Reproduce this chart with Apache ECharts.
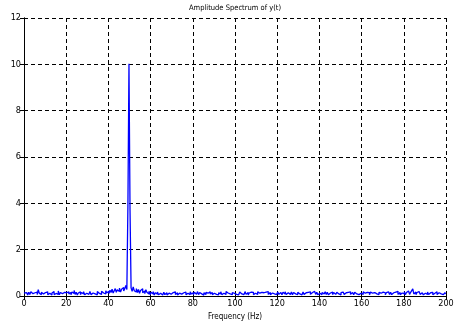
<!DOCTYPE html>
<html>
<head>
<meta charset="utf-8">
<script src="https://cdn.jsdelivr.net/npm/echarts@6/dist/echarts.min.js"></script>
<style>
  html, body { margin: 0; padding: 0; background: #fff; }
  #chart { width: 455px; height: 325px; }
</style>
</head>
<body>
<div id="chart"></div>
<script>
// amplitude |Y(f)|, one value every 0.5 Hz from 0 to 200 Hz
const freqStep = 0.5;
const amplitude = [
    0.12,0.05,0.15,0.08,0.04,0.16,0.07,0.18,0.10,0.05,0.14,0.08,0.17,0.06,0.27,0.12,0.06,0.16,0.09,0.04,
    0.15,0.07,0.18,0.05,0.12,0.16,0.04,0.13,0.19,0.06,0.11,0.17,0.07,0.22,0.05,0.15,0.10,0.04,0.16,0.08,
    0.14,0.06,0.18,0.09,0.15,0.05,0.17,0.11,0.24,0.07,0.16,0.04,0.13,0.18,0.06,0.15,0.09,0.19,0.05,0.12,
    0.17,0.07,0.15,0.20,0.06,0.13,0.18,0.09,0.16,0.05,0.19,0.11,0.17,0.07,0.21,0.13,0.18,0.09,0.23,0.14,
    0.20,0.11,0.25,0.15,0.29,0.13,0.23,0.32,0.16,0.27,0.19,0.34,0.17,0.29,0.37,0.22,0.31,0.46,0.28,3.90,
    10.02,3.70,0.35,0.20,0.39,0.23,0.17,0.32,0.15,0.28,0.12,0.24,0.31,0.14,0.22,0.10,0.27,0.16,0.09,0.21,
    0.06,0.16,0.09,0.19,0.04,0.14,0.08,0.17,0.05,0.12,0.15,0.04,0.11,0.16,0.06,0.14,0.04,0.12,0.17,0.08,
    0.05,0.15,0.09,0.18,0.06,0.14,0.04,0.12,0.16,0.08,0.04,0.14,0.09,0.17,0.05,0.12,0.15,0.06,0.18,0.09,
    0.14,0.05,0.16,0.08,0.12,0.19,0.06,0.15,0.09,0.17,0.04,0.14,0.07,0.16,0.12,0.05,0.18,0.09,0.15,0.06,
    0.12,0.17,0.07,0.15,0.05,0.14,0.09,0.18,0.06,0.12,0.16,0.07,0.19,0.13,0.21,0.09,0.17,0.06,0.15,0.11,
    0.18,0.07,0.15,0.05,0.13,0.17,0.09,0.16,0.06,0.12,0.19,0.07,0.15,0.04,0.13,0.17,0.09,0.16,0.06,0.12,
    0.15,0.07,0.18,0.12,0.05,0.16,0.09,0.14,0.06,0.17,0.12,0.19,0.07,0.15,0.05,0.13,0.18,0.09,0.16,0.06,
    0.13,0.17,0.07,0.15,0.12,0.05,0.16,0.09,0.18,0.06,0.14,0.16,0.07,0.12,0.17,0.05,0.15,0.09,0.14,0.06,
    0.16,0.09,0.15,0.05,0.12,0.17,0.07,0.14,0.06,0.16,0.12,0.18,0.07,0.15,0.09,0.20,0.13,0.07,0.16,0.05,
    0.12,0.17,0.06,0.15,0.09,0.14,0.18,0.07,0.16,0.05,0.13,0.09,0.17,0.06,0.15,0.12,0.07,0.16,0.09,0.14,
    0.05,0.15,0.12,0.17,0.07,0.14,0.06,0.16,0.09,0.18,0.07,0.15,0.12,0.05,0.16,0.09,0.14,0.17,0.06,0.12,
    0.15,0.07,0.18,0.12,0.06,0.16,0.09,0.14,0.05,0.17,0.12,0.07,0.15,0.19,0.09,0.14,0.06,0.16,0.12,0.07,
    0.17,0.09,0.14,0.05,0.15,0.12,0.18,0.07,0.16,0.06,0.14,0.09,0.17,0.12,0.20,0.07,0.15,0.05,0.13,0.16,
    0.09,0.18,0.06,0.15,0.12,0.22,0.07,0.16,0.13,0.31,0.09,0.17,0.06,0.15,0.12,0.19,0.07,0.14,0.16,0.05,
    0.12,0.15,0.07,0.17,0.06,0.14,0.09,0.16,0.05,0.12,0.15,0.18,0.07,0.14,0.17,0.09,0.16,0.06,0.12,0.15,
    0.08
];

const xTicks = { min: 0, max: 200, interval: 20 };
const yTicks = { min: 0, max: 12, interval: 2 };

const titleText = 'Amplitude Spectrum of y(t)';
const xName = 'Frequency (Hz)';
const yName = '|Y(f)|';

const font = '"Liberation Sans Narrow", "DejaVu Sans Condensed", "Liberation Sans", Arial, sans-serif';

const chart = echarts.init(document.getElementById('chart'));

const points = amplitude.map((v, i) => [i * freqStep, v]);

const dashed = { show: true, lineStyle: { color: '#000', width: 1, type: [4, 3] } };
const tickIn = { show: true, inside: true, length: 4, lineStyle: { color: '#000' } };

chart.setOption({
    animation: false,
    backgroundColor: '#fff',
    textStyle: { fontFamily: font },
    grid: { left: 24, right: 9, top: 18, bottom: 29, containLabel: false, outerBoundsMode: 'none' },
    graphic: [{
        type: 'text',
        x: 235,
        y: 4,
        style: { text: titleText, fontSize: 7.5, fontFamily: font, fill: '#000', align: 'center' }
    }],
    xAxis: [{
        type: 'value',
        min: xTicks.min, max: xTicks.max, interval: xTicks.interval,
        name: xName, nameLocation: 'middle', nameGap: 17,
        nameTextStyle: { fontSize: 8, color: '#000', fontFamily: font },
        axisLine: { lineStyle: { color: '#000' } },
        axisTick: tickIn,
        axisLabel: { fontSize: 9, color: '#000', margin: 3, fontFamily: font },
        splitLine: dashed
    }, {
        type: 'value', position: 'top',
        min: xTicks.min, max: xTicks.max, interval: xTicks.interval,
        axisLine: { show: true, lineStyle: { color: '#000' } },
        axisTick: tickIn, axisLabel: { show: false }, splitLine: { show: false }
    }],
    yAxis: [{
        type: 'value',
        min: yTicks.min, max: yTicks.max, interval: yTicks.interval,
        name: yName, nameLocation: 'middle', nameGap: 17, nameRotate: 90,
        nameTextStyle: { fontSize: 8, color: '#000', fontFamily: font },
        axisLine: { show: true, lineStyle: { color: '#000' } },
        axisTick: tickIn,
        axisLabel: { fontSize: 9, color: '#000', margin: 3, fontFamily: font },
        splitLine: dashed
    }, {
        type: 'value', position: 'right',
        min: yTicks.min, max: yTicks.max, interval: yTicks.interval,
        axisLine: { show: true, lineStyle: { color: '#000' } },
        axisTick: tickIn, axisLabel: { show: false }, splitLine: { show: false }
    }],
    series: [{
        type: 'line',
        step: 'middle',
        data: points,
        showSymbol: false,
        lineStyle: { color: '#0000ff', width: 1.3 },
        itemStyle: { color: '#0000ff' }
    }]
});
</script>
</body>
</html>
